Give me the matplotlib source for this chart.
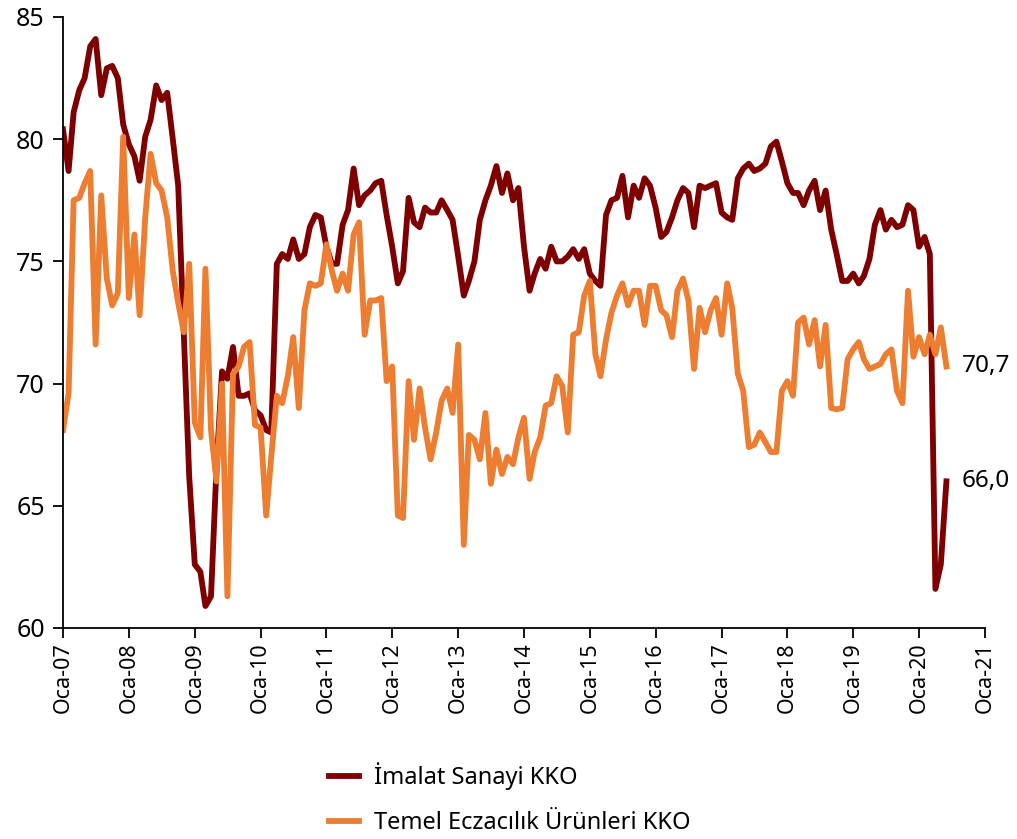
import matplotlib
matplotlib.use("Agg")
import matplotlib.pyplot as plt
import pandas as pd

# Aylık seriler, Ocak 2007 - Haziran 2020
imalat = [
    80.4, 78.7, 81.1, 82.0, 82.5, 83.8, 84.1, 81.8, 82.9, 83.0, 82.5, 80.6,
    79.8, 79.3, 78.3, 80.1, 80.8, 82.2, 81.6, 81.9, 80.0, 78.1, 72.1, 66.2,
    62.6, 62.3, 60.9, 61.3, 66.5, 70.5, 70.2, 71.5, 69.5, 69.5, 69.6, 68.9,
    68.7, 68.1, 68.0, 74.9, 75.3, 75.1, 75.9, 75.1, 75.3, 76.4, 76.9, 76.8,
    75.6, 74.9, 74.9, 76.5, 77.1, 78.8, 77.3, 77.7, 77.9, 78.2, 78.3, 76.9,
    75.6, 74.1, 74.6, 77.6, 76.6, 76.4, 77.2, 77.0, 77.0, 77.5, 77.1, 76.7,
    75.2, 73.6, 74.2, 75.0, 76.7, 77.5, 78.1, 78.9, 77.8, 78.6, 77.5, 78.0,
    75.6, 73.8, 74.5, 75.1, 74.7, 75.6, 75.0, 75.0, 75.2, 75.5, 75.1, 75.5,
    74.5, 74.2, 74.0, 76.9, 77.5, 77.6, 78.5, 76.8, 78.1, 77.6, 78.4, 78.1,
    77.2, 76.0, 76.2, 76.8, 77.5, 78.0, 77.8, 76.4, 78.1, 78.0, 78.1, 78.2,
    77.0, 76.8, 76.7, 78.4, 78.8, 79.0, 78.7, 78.8, 79.0, 79.7, 79.9, 79.1,
    78.2, 77.8, 77.8, 77.3, 77.9, 78.3, 77.1, 77.9, 76.3, 75.3, 74.2, 74.2,
    74.5, 74.1, 74.4, 75.1, 76.5, 77.1, 76.3, 76.7, 76.4, 76.5, 77.3, 77.1,
    75.6, 76.0, 75.3, 61.6, 62.6, 66.0,
]
eczacilik = [
    68.1, 69.6, 77.5, 77.6, 78.2, 78.7, 71.6, 77.7, 74.3, 73.2, 73.7, 80.1,
    73.5, 76.1, 72.8, 76.8, 79.4, 78.2, 77.9, 76.8, 74.6, 73.3, 72.1, 74.9,
    68.4, 67.8, 74.7, 68.1, 66.0, 70.0, 61.3, 70.4, 70.7, 71.5, 71.7, 68.3,
    68.2, 64.6, 67.0, 69.5, 69.2, 70.3, 71.9, 69.0, 73.0, 74.1, 74.0, 74.1,
    75.7, 74.6, 73.8, 74.5, 73.8, 76.1, 76.6, 72.0, 73.4, 73.4, 73.5, 70.1,
    70.7, 64.6, 64.5, 70.1, 67.7, 69.8, 68.2, 66.9, 68.0, 69.3, 69.8, 68.8,
    71.6, 63.4, 67.9, 67.7, 66.9, 68.8, 65.9, 67.3, 66.3, 67.0, 66.7, 67.8,
    68.6, 66.1, 67.2, 67.8, 69.1, 69.2, 70.3, 69.9, 68.0, 72.0, 72.1, 73.6,
    74.2, 71.2, 70.3, 71.8, 72.9, 73.6, 74.1, 73.2, 73.8, 73.8, 72.4, 74.0,
    74.0, 73.0, 72.8, 71.9, 73.8, 74.3, 73.4, 70.6, 73.1, 72.1, 73.0, 73.5,
    72.0, 74.1, 73.1, 70.4, 69.7, 67.4, 67.5, 68.0, 67.6, 67.2, 67.2, 69.7,
    70.1, 69.5, 72.5, 72.7, 71.6, 72.6, 70.7, 72.4, 69.0, 68.95, 69.0, 71.0,
    71.4, 71.7, 71.0, 70.6, 70.7, 70.8, 71.2, 71.4, 69.7, 69.2, 73.8, 71.1,
    71.9, 71.2, 72.0, 71.2, 72.3, 70.7,
]
seri_adlari = ["İmalat Sanayi KKO", "Temel Eczacılık Ürünleri KKO"]
renkler = ["#7f0000", "#ed7d31"]
yillar = list(range(2007, 2022))
y_ticks = [60, 65, 70, 75, 80, 85]

tarihler = pd.date_range("2007-01-01", periods=len(imalat), freq="MS")

plt.rcParams["font.family"] = ["Noto Sans", "DejaVu Sans"]

fig = plt.figure(figsize=(10.17, 8.39), dpi=100)
ax = fig.add_axes([63 / 1017, 1 - 628 / 839, (985 - 63) / 1017, (628 - 17) / 839])

for seri, ad, renk in zip([imalat, eczacilik], seri_adlari, renkler):
    ax.plot(tarihler, seri, color=renk, lw=4.2, label=ad, solid_joinstyle="round")

# son değer etiketleri
for seri in [eczacilik, imalat]:
    ax.annotate(f"{seri[-1]:.1f}".replace(".", ","), xy=(tarihler[-1], seri[-1]),
                xytext=(11, 0), textcoords="offset points", va="center", ha="left",
                fontsize=17.5, annotation_clip=False)

ax.set_xlim(pd.Timestamp("2007-01-01"), pd.Timestamp("2021-01-01"))
ax.set_ylim(60, 85)
ax.set_yticks(y_ticks)
ax.set_xticks([pd.Timestamp(f"{y}-01-01") for y in yillar])
ax.set_xticklabels([f"Oca-{y % 100:02d}" for y in yillar], rotation=90)

for s in ["top", "right"]:
    ax.spines[s].set_visible(False)
for s in ["left", "bottom"]:
    ax.spines[s].set_linewidth(1.3)
ax.tick_params(axis="both", direction="out", length=7, width=1.3)
ax.tick_params(axis="x", labelsize=15.5, pad=3)
ax.tick_params(axis="y", labelsize=18, pad=6)

fig.legend(loc="upper left", bbox_to_anchor=(329 / 1017, 1 - 762 / 839),
           frameon=False, fontsize=17, handlelength=1.25, labelspacing=0.9,
           handletextpad=0.65, borderpad=0, borderaxespad=0)

fig.savefig("out.png", dpi=100, facecolor="white")
